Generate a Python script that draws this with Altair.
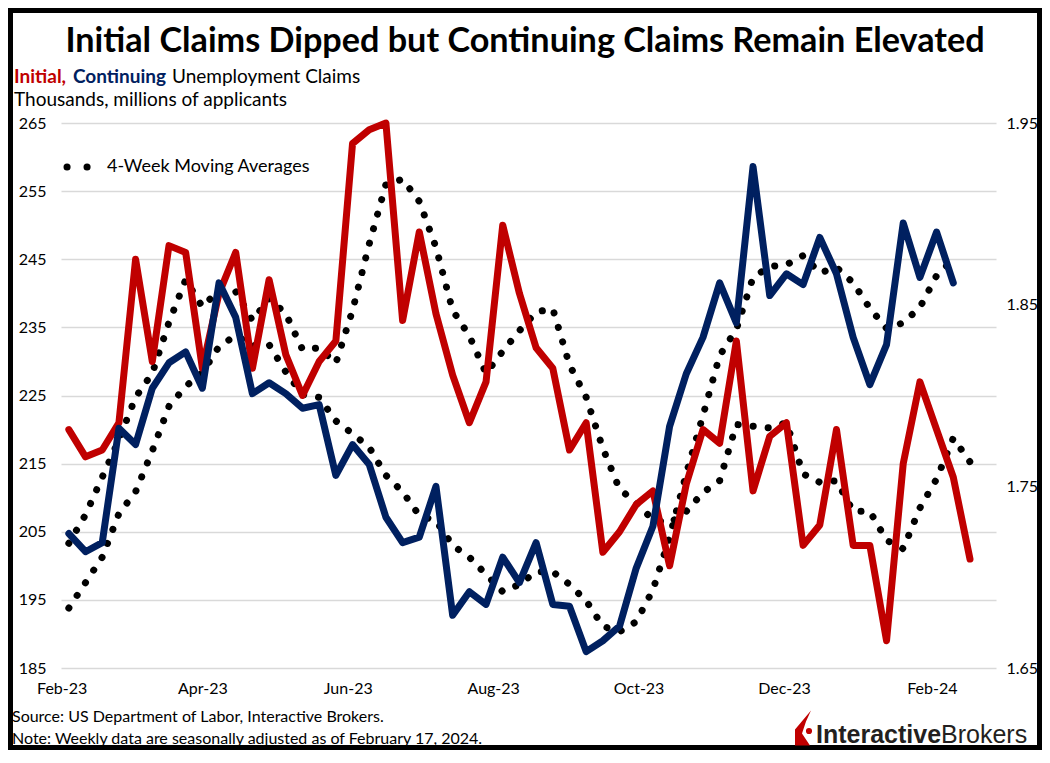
import altair as alt
import pandas as pd

# ---------------- data ----------------
initial_dates = [d.strftime("%Y-%m-%dT00:00:00") for d in pd.date_range("2023-02-04", periods=55, freq="7D")]
continuing_dates = initial_dates[:54]

# Initial claims, thousands (left axis)
initial_claims = [220, 216, 217, 221, 245, 230, 247, 246, 229, 240,
                  246, 229, 242, 231, 225, 230, 233, 262, 264, 265,
                  236, 249, 237, 228, 221, 227, 250, 240, 232, 229,
                  217, 221, 202, 205, 209, 211, 200, 212, 220, 218,
                  233, 211, 219, 221, 203, 206, 220, 203, 203, 189,
                  215, 227, 220, 213, 201]
# Initial claims, 4-week moving average
initial_ma = [203.3, 207.5, 213.0, 218.5, 224.75, 228.25, 235.75, 242.0, 238.0, 240.5,
              240.25, 236.0, 239.25, 237.0, 231.75, 232.0, 229.75, 237.5, 247.25, 256.0,
              256.75, 253.5, 246.75, 237.5, 233.75, 228.25, 231.5, 234.5, 237.25, 237.75,
              229.5, 224.75, 217.25, 211.25, 209.25, 206.75, 206.25, 208.0, 210.75, 212.5,
              220.75, 220.5, 220.25, 221.0, 213.5, 212.25, 212.5, 208.0, 208.0, 203.75,
              202.5, 208.5, 212.75, 218.75, 215.25]
# Continuing claims, millions (right axis)
continuing_claims = [1.724, 1.714, 1.719, 1.782, 1.773, 1.804, 1.818, 1.824, 1.804, 1.862,
                     1.843, 1.801, 1.807, 1.801, 1.793, 1.795, 1.756, 1.773, 1.762, 1.733,
                     1.719, 1.722, 1.750, 1.679, 1.692, 1.685, 1.711, 1.697, 1.719, 1.685,
                     1.684, 1.659, 1.665, 1.673, 1.705, 1.728, 1.783, 1.812, 1.832, 1.862,
                     1.840, 1.926, 1.855, 1.867, 1.861, 1.887, 1.867, 1.832, 1.806, 1.828,
                     1.895, 1.865, 1.890, 1.862]
# Continuing claims, 4-week moving average
continuing_ma = [1.683, 1.697, 1.711, 1.735, 1.747, 1.7695, 1.794, 1.805, 1.8125, 1.827,
                 1.833, 1.8275, 1.828, 1.813, 1.8005, 1.799, 1.786, 1.779, 1.7715, 1.756,
                 1.747, 1.734, 1.731, 1.7175, 1.711, 1.7015, 1.692, 1.696, 1.703, 1.703,
                 1.696, 1.687, 1.673, 1.670, 1.6755, 1.693, 1.722, 1.757, 1.789, 1.822,
                 1.8365, 1.865, 1.871, 1.872, 1.877, 1.8675, 1.8705, 1.862, 1.848, 1.837,
                 1.840, 1.8485, 1.866, 1.875]

left_ticks = [185, 195, 205, 215, 225, 235, 245, 255, 265]
right_ticks = [1.65, 1.75, 1.85, 1.95]
x_tick_months = [(2023, 2), (2023, 4), (2023, 6), (2023, 8), (2023, 10), (2023, 12), (2024, 2)]

RED = "#C00000"
NAVY = "#002060"
FONT = "Lato"

df_init = pd.DataFrame({"date": initial_dates, "value": initial_claims, "ma": initial_ma})
df_cont = pd.DataFrame({"date": continuing_dates, "value": continuing_claims, "ma": continuing_ma})
one = alt.Data(values=[{}])

x_enc = alt.X(
    "date:T",
    scale=alt.Scale(domain=[alt.DateTime(year=2023, month=1, date=31, hours=17),
                            alt.DateTime(year=2024, month=2, date=27, hours=22)], nice=False),
    axis=alt.Axis(values=[alt.DateTime(year=y, month=m, date=1) for y, m in x_tick_months],
                  format="%b-%y", labelFont=FONT, labelFontSize=16, labelColor="black",
                  ticks=False, domain=False, grid=False, labelPadding=12, labelFlush=False,
                  labelOverlap=False, labelBound=False, title=None),
)

left_scale = alt.Scale(domain=[185, 265], nice=False, zero=False)
right_scale = alt.Scale(domain=[1.65, 1.95], nice=False, zero=False)

line_style = dict(strokeWidth=7, strokeCap="round", strokeJoin="round")
dot_style = dict(strokeWidth=7, strokeCap="round", strokeDash=[0.1, 15], color="black")

red_ma = alt.Chart(df_init).mark_line(**dot_style).encode(
    x=x_enc, y=alt.Y("ma:Q", scale=left_scale, axis=None))
blue_ma = alt.Chart(df_cont).mark_line(**dot_style).encode(
    x=x_enc, y=alt.Y("ma:Q", scale=right_scale, axis=None))
red_line = alt.Chart(df_init).mark_line(color=RED, **line_style).encode(
    x=x_enc,
    y=alt.Y("value:Q", scale=left_scale,
            axis=alt.Axis(values=left_ticks, orient="left", grid=True, gridColor="#D9D9D9",
                          gridWidth=1.5, ticks=False, domain=False, labelFont=FONT,
                          labelFontSize=16, labelColor="black", labelPadding=15, title=None)))
blue_line = alt.Chart(df_cont).mark_line(color=NAVY, **line_style).encode(
    x=x_enc,
    y=alt.Y("value:Q", scale=right_scale,
            axis=alt.Axis(values=right_ticks, orient="right", format=".2f", grid=False,
                          ticks=False, domain=False, labelFont=FONT, labelFontSize=16,
                          labelColor="black", labelPadding=10, title=None)))


def txt(s, x, y, size, color="black", weight="normal", align="left", font=FONT):
    return alt.Chart(one).mark_text(align=align, baseline="middle", fontSize=size,
                                    font=font, fontWeight=weight, color=color).encode(
        x=alt.value(x), y=alt.value(y), text=alt.value(s))


title = txt("Initial Claims Dipped but Continuing Claims Remain Elevated", 464, -81, 34.2,
            weight="bold", align="center")
sub1 = txt("Initial,", -47, -46, 19, color=RED, weight="bold")
sub2 = txt("Continuing", 12, -46, 19, color=NAVY, weight="bold")
sub3 = txt("Unemployment  Claims", 111, -46, 19)
sub4 = txt("Thousands, millions of applicants", -47, -23, 19)
legend_dots = alt.Chart(one).mark_rule(strokeWidth=7, strokeCap="round", strokeDash=[0.1, 19.9],
                                       color="black").encode(
    x=alt.value(6), x2=alt.value(26.1), y=alt.value(44))
legend_txt = txt("4-Week Moving Averages", 46, 44, 18)
src = txt("Source: US Department of Labor, Interactive Brokers.", -49, 594, 16)
note = txt("Note: Weekly data are seasonally adjusted as of February 17, 2024.", -49, 616, 16)

logo_shape = alt.Chart(one).mark_point(
    shape="M0.457,-1L-0.457,0.086L-0.457,1L0.4,1L-0.057,0.314L0.171,-0.371Z",
    filled=True, color=RED, opacity=1, size=1225, strokeWidth=0).encode(
    x=alt.value(742), y=alt.value(605))
logo_dot = alt.Chart(one).mark_point(shape="circle", filled=True, color=RED, opacity=1,
                                     size=38, strokeWidth=0).encode(
    x=alt.value(748), y=alt.value(608))
logo_a = alt.Chart(one).mark_text(align="left", baseline="alphabetic", fontSize=25,
                                  font="Liberation Sans", fontWeight="bold", color="#231F20").encode(
    x=alt.value(755), y=alt.value(620), text=alt.value("Interactive"))
logo_b = alt.Chart(one).mark_text(align="left", baseline="alphabetic", fontSize=25,
                                  font="Liberation Sans", color="#231F20").encode(
    x=alt.value(880), y=alt.value(620), text=alt.value("Brokers"))

frame = alt.Chart(one).mark_rect(fillOpacity=0, stroke="black", strokeWidth=5).encode(
    x=alt.value(-50.5), x2=alt.value(978.5), y=alt.value(-112.5), y2=alt.value(624.5))

chart = alt.layer(
    frame, red_ma, blue_ma, red_line, blue_line,
    title, sub1, sub2, sub3, sub4, legend_dots, legend_txt, src, note,
    logo_shape, logo_dot, logo_a, logo_b,
).resolve_scale(y="independent").properties(
    width=935, height=545,
    padding={"left": 53, "top": 115, "right": 46, "bottom": 82},
    autosize=alt.AutoSizeParams(type="none"),
    background="white",
).configure_view(stroke=None)

chart.save("out.html", embed_options={"renderer": "svg", "actions": False})
